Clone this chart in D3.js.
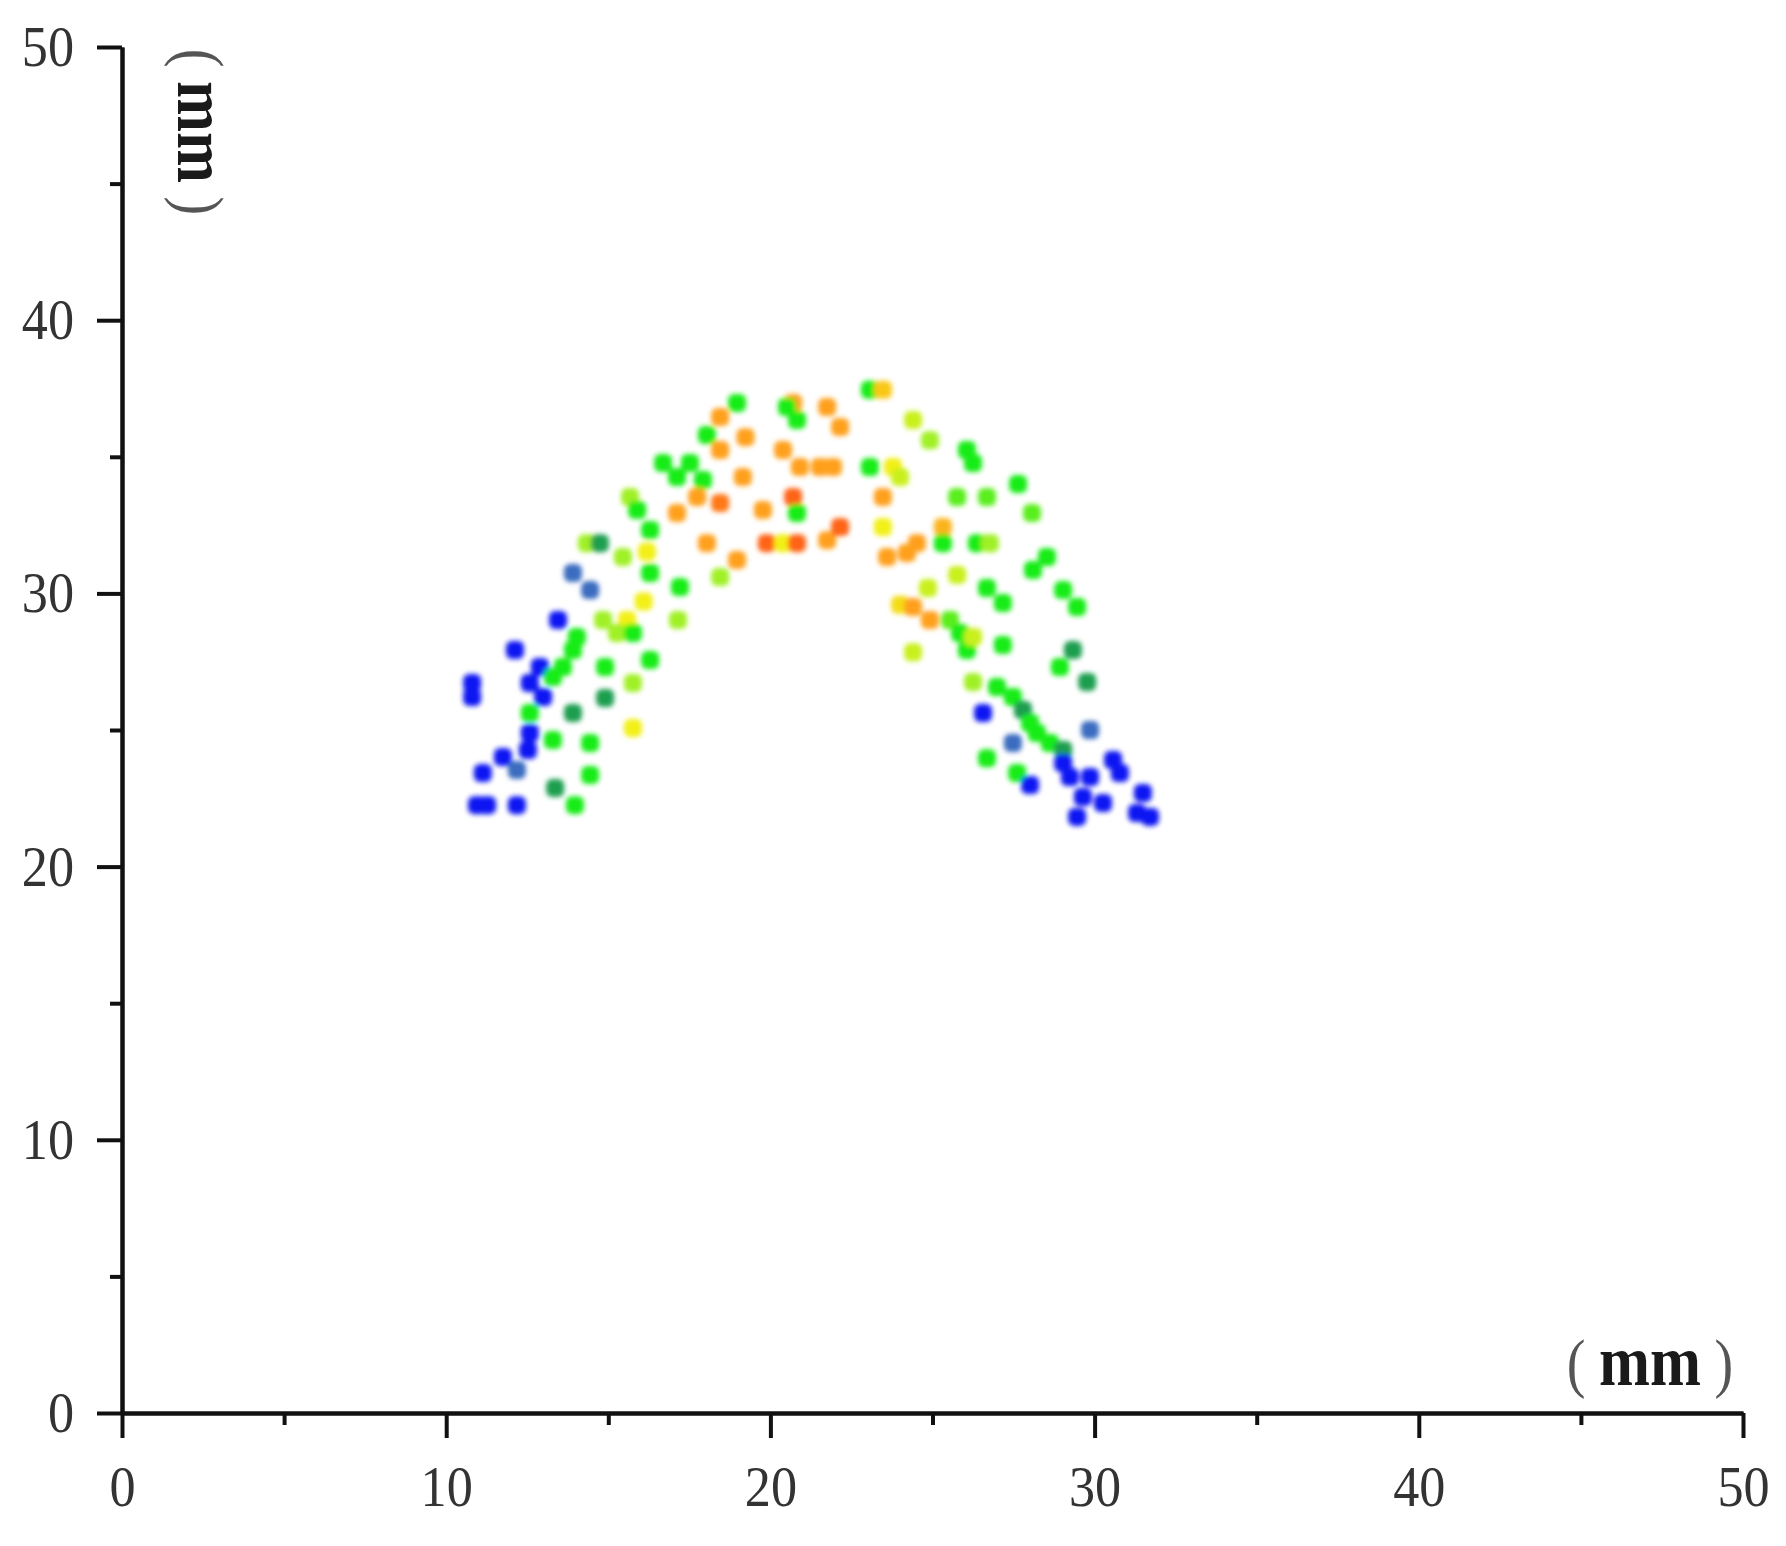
<!DOCTYPE html>
<html><head><meta charset="utf-8">
<script src="https://cdn.jsdelivr.net/npm/d3@7"></script>
<style>html,body{margin:0;padding:0;background:#fff;} svg{display:block;}</style>
</head><body>
<script>
// ---- data ----
const xValues = [
 10.80,10.80,10.95,11.26,12.18,12.12,11.13,11.75,12.18,12.58,12.52,12.89,12.58,12.99,12.58,13.45,
 14.03,13.91,13.60,13.29,13.29,13.91,14.44,14.44,13.36,13.97,14.90,14.90,13.91,14.44,14.34,14.74,
 14.84,15.58,15.27,15.76,16.09,16.29,15.76,15.76,17.15,15.45,16.19,16.29,17.21,15.67,15.89,16.29,
 16.69,17.12,17.52,17.92,18.04,17.12,17.74,18.45,18.45,18.04,18.97,18.45,18.97,18.45,19.23,19.15,
 19.77,20.39,20.91,20.70,20.82,19.89,20.39,20.82,20.70,20.51,20.82,21.75,22.15,21.53,21.93,21.75,
 22.15,23.07,23.47,24.40,24.92,26.06,26.25,23.07,23.78,24.00,23.47,23.47,25.76,26.68,25.32,25.32,
 26.37,26.77,23.60,24.21,24.52,25.76,24.86,26.68,27.17,24.00,24.40,24.92,25.54,25.85,26.06,26.25,
 24.40,27.17,28.07,28.10,28.53,29.03,29.46,29.33,28.93,29.77,26.25,26.99,27.48,26.56,27.79,28.01,
 28.22,27.48,28.62,29.03,29.86,26.68,29.03,29.24,30.57,30.78,27.61,28.01,29.64,29.46,30.26,31.49,
 31.31,31.71,29.86,27.64
];
const yValues = [
 26.72,26.21,22.25,22.25,22.25,27.93,23.43,24.01,23.54,24.89,24.27,27.31,26.72,26.21,25.62,29.03,
 28.40,27.93,27.31,26.94,24.63,25.62,24.52,23.35,22.88,22.25,27.31,26.17,30.75,30.12,31.84,31.84,
 29.03,29.03,28.55,28.55,29.70,27.56,26.72,25.07,29.03,31.33,31.52,30.75,30.23,33.53,33.05,32.32,
 34.77,34.26,34.77,34.15,35.80,32.94,33.53,33.31,35.25,31.84,31.22,30.60,36.97,36.46,35.72,34.26,
 33.05,35.25,34.63,33.53,32.94,31.84,31.84,31.84,36.97,36.82,36.35,36.82,36.09,34.63,34.63,31.95,
 32.43,37.45,37.45,36.35,35.61,35.25,34.77,34.63,34.63,34.26,33.53,32.43,33.53,33.53,32.43,31.84,
 31.84,31.84,31.33,31.48,31.84,30.67,30.20,30.20,29.65,29.58,29.50,29.03,29.03,28.55,27.93,28.40,
 27.85,28.11,32.94,30.86,31.33,30.12,29.50,27.93,27.31,26.76,26.76,26.57,26.21,25.62,25.73,25.26,
 24.89,24.52,24.52,24.27,25.00,23.97,23.79,23.28,23.90,23.43,23.43,22.99,22.55,21.82,22.33,22.69,
 21.96,21.82,23.28,34.00
];
const intensity = [
 0,0,0,0,0,0,0,0,0.1,0,0,0,0,0,0.3,0,
 0.3,0.3,0.3,0.3,0.3,0.2,0.3,0.3,0.2,0.3,0.3,0.2,0.1,0.1,0.4,0.2,
 0.4,0.5,0.4,0.3,0.5,0.3,0.4,0.5,0.4,0.4,0.5,0.3,0.3,0.4,0.3,0.3,
 0.3,0.3,0.3,0.3,0.3,0.7,0.7,0.8,0.7,0.7,0.7,0.4,0.3,0.7,0.7,0.7,
 0.7,0.7,0.7,0.85,0.3,0.85,0.5,0.85,0.7,0.3,0.3,0.7,0.7,0.7,0.7,0.7,
 0.85,0.3,0.6,0.45,0.4,0.3,0.3,0.3,0.5,0.45,0.7,0.5,0.35,0.35,0.65,0.3,
 0.3,0.4,0.7,0.7,0.7,0.45,0.45,0.3,0.3,0.55,0.7,0.7,0.35,0.3,0.3,0.45,
 0.45,0.3,0.35,0.3,0.3,0.3,0.3,0.2,0.3,0.2,0.4,0.3,0.3,0,0.2,0.3,
 0.3,0.1,0.3,0.2,0.1,0.3,0,0,0,0,0.3,0,0,0,0,0,
 0,0,0,0.3
];
const colorStops = [0, 0.1, 0.2, 0.3, 0.4, 0.5, 0.7, 0.85];
const colorRange = ["#0a14f2","#3a6cc0","#1e9e50","#14ec14","#a0f028","#f2f014","#ffa01e","#ff6414"];
const majorTicks = [0, 10, 20, 30, 40, 50];
const minorTicks = [5, 15, 25, 35, 45];
const axisDomain = [0, 50];
const unitText = "mm";

// ---- drawing ----
const W = 1786, H = 1546;
const svg = d3.select("body").append("svg").attr("width", W).attr("height", H);
svg.append("rect").attr("width", W).attr("height", H).attr("fill", "#fff");

const x = d3.scaleLinear().domain(axisDomain).range([122, 1743]);
const y = d3.scaleLinear().domain(axisDomain).range([1413, 47]);
const color = d3.scaleLinear().domain(colorStops).range(colorRange);

const defs = svg.append("defs");
defs.append("filter").attr("id", "soft").attr("x", "-50%").attr("y", "-50%").attr("width", "200%").attr("height", "200%")
  .append("feGaussianBlur").attr("stdDeviation", 2.6);

const pts = xValues.map((d, i) => ({ x: d, y: yValues[i], v: intensity[i] }));
svg.append("g").attr("filter", "url(#soft)")
  .selectAll("rect").data(pts).join("rect")
  .attr("x", d => x(d.x) - 9).attr("y", d => y(d.y) - 9)
  .attr("width", 18).attr("height", 18).attr("rx", 6)
  .attr("fill", d => color(d.v));

function styleAxis(g) {
  g.selectAll("path.domain").attr("stroke", "#111").attr("stroke-width", 4);
  g.selectAll(".tick line").attr("stroke", "#111").attr("stroke-width", 4);
  g.attr("font-family", null).attr("font-size", null);
  g.selectAll(".tick text").attr("font-family", "'Liberation Serif', serif")
    .attr("font-size", 58).attr("fill", "#333");
}

// x axis
const gxMinor = svg.append("g").attr("transform", "translate(0,1413)")
  .call(d3.axisBottom(x).tickValues(minorTicks).tickSize(12).tickSizeOuter(0).tickFormat(""));
styleAxis(gxMinor);
const gx = svg.append("g").attr("transform", "translate(0,1413)")
  .call(d3.axisBottom(x).tickValues(majorTicks).tickSize(25).tickSizeOuter(0).tickPadding(27).tickFormat(d3.format("d")));
styleAxis(gx);
gx.selectAll(".tick text").attr("transform", "scale(0.9,1)");

// y axis
const gyMinor = svg.append("g").attr("transform", "translate(122,0)")
  .call(d3.axisLeft(y).tickValues(minorTicks).tickSize(12).tickSizeOuter(0).tickFormat(""));
styleAxis(gyMinor);
const gy = svg.append("g").attr("transform", "translate(122,0)")
  .call(d3.axisLeft(y).tickValues(majorTicks).tickSize(25).tickSizeOuter(0).tickPadding(23).tickFormat(d3.format("d")));
styleAxis(gy);
gy.selectAll(".tick text").attr("x", -48 / 0.9).attr("transform", "scale(0.9,1)");

// unit labels
function unitLabel(transform) {
  const t = svg.append("text").attr("transform", transform).attr("text-anchor", "middle").attr("fill", "#1a1a1a");
  t.append("tspan").attr("font-family", "'Liberation Serif', serif").attr("font-size", 66).attr("fill", "#555").text("(");
  t.append("tspan").attr("dx", 16).attr("font-family", "'Liberation Serif', serif").attr("font-weight", "bold").attr("font-size", 72).text(unitText);
  t.append("tspan").attr("dx", 16).attr("font-family", "'Liberation Serif', serif").attr("font-size", 66).attr("fill", "#555").text(")");
}
unitLabel("translate(1650,1385) scale(0.85,1)");
unitLabel("translate(178,132) rotate(90) scale(0.85,1)");
</script>
</body></html>
